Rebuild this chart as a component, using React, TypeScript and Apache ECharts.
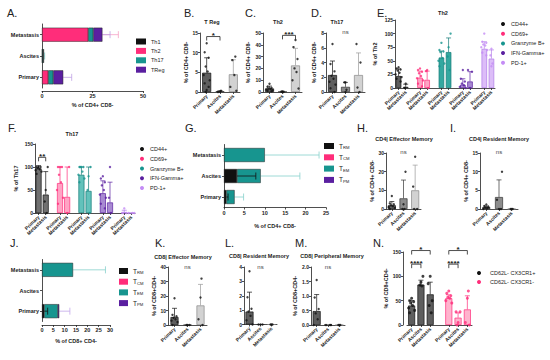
import React, { useEffect, useRef } from "react";
import * as echarts from "echarts";

const FONT = "Liberation Sans, Arial, sans-serif";
const INK = "#222";

const sites = ["Primary", "Ascites", "Metastasis"];

// ---------- A: CD4+ helper subsets (stacked) ----------
const aNames = ["Th1", "Th2", "Th17", "TReg"];
const aTh1 = [0, 0, 0];
const aTh2 = [3.1, 0.2, 22.9];
const aTh17 = [2.5, 0.5, 2.5];
const aTReg = [4.9, 0.2, 4.5];
const aErrTh2 = [null, null, 37.8];
const aErrTh17 = [null, 1.3, null];
const aErrTReg = [14.7, null, 33.7];
const aTicks = [0, 50, 25];

// ---------- B: T Reg ----------
const bMean = [4.9, 0.2, 4.5];
const bSD = [8.7, 0.35, 8.2];
const bDots = [[12.4, 10.1, 8.7, 6.5, 5.2, 4.3, 3.0, 2.2, 1.3, 0.5, 0], [0.3, 0.1, 0], [9.0, 8.1, 4.3, 1.3, 0.3]];
const bSig: any[] = [[0, 1, 14.1, "*"]];

// ---------- C: Th2 ----------
const cMean = [3, 0.3, 22.5];
const cSD = [5, 0.6, 37];
const cDots = [[7, 4.5, 3.5, 3, 2.5, 2, 1.5, 1, 0.5], [0.5, 0.2, 0], [44, 38, 28, 20, 17, 10, 3]];
const cSig: any[] = [[1, 2, 48, "***"]];

// ---------- D: Th17 ----------
const dMean = [2.3, 0.7, 2.3];
const dSD = [4.2, 1.3, 5.3];
const dDots = [[6.5, 3.8, 2.8, 2.2, 1.8, 1.4, 1, 0.5, 0], [1.3, 1.3, 0.3, 0], [6.5, 4, 0.6, 0]];
const dSig: any[] = [[1, 1, 8.1, "ns"]];

// ---------- E / F: marker expression ----------
const markers = ["CD44+", "CD69+", "Granzyme B+", "IFN-Gamma+", "PD-1+"];
const groupSites = ["Primary", "Metastasis"];
const eMean = [[22, 2], [19, 15], [56, 66], [6, 12], [72, 54]];
const eSD = [[35, 7], [31, 31], [68, 92], [17, 30], [85, 70]];
const eDots = [
  [[38, 36, 34, 32, 28, 25, 20, 17, 12], [8, 0]],
  [[36, 33, 30, 27, 22, 18, 14, 8, 3], [33, 31, 0]],
  [[83, 70, 67, 66, 55, 50, 45, 40], [100, 75, 58, 33]],
  [[33, 17, 12, 8, 5, 2, 0], [33, 30, 0]],
  [[100, 85, 83, 80, 78, 75, 70, 65, 60], [72, 60, 45, 40]],
];
const fMean = [[97, 40], [65, 35], [83, 48], [43, 23], [2, 0]];
const fSD = [[103, 90], [100, 100], [100, 100], [70, 67], [6, 0]];
const fDots = [
  [[100, 100, 100, 98, 95, 93, 90, 85], [100, 50, 25, 0]],
  [[100, 100, 100, 83, 67, 50, 33, 20], [100, 0]],
  [[100, 100, 100, 100, 90, 83, 75, 67], [100, 80, 50, 0]],
  [[80, 75, 67, 60, 50, 40, 33, 20, 10], [100, 33, 0]],
  [[10, 0, 0, 0], [0, 0, 0]],
];
const fSig: any[] = [[0, 1, 121, "**"]];

// ---------- G / J: memory subsets (stacked) ----------
const memNames = ["TRM", "TCM", "TEM", "TPM"];
const gTRM = [0.6, 3.2, 0];
const gTCM = [0, 0, 0];
const gTEM = [2.0, 5.8, 10];
const gTPM = [0, 0, 0];
const gErrTRM = [1.0, 7.8, null];
const gErrTEM = [4.8, 18.6, 23.3];
const jTRM = [1.0, 0, 0];
const jTCM = [0, 0, 0];
const jTEM = [6.0, 0, 13.7];
const jTPM = [0.6, 0, 0];
const jErrTRM = [2.5, null, null];
const jErrTEM = [null, null, 28];
const jErrTPM = [12.3, null, null];

// ---------- H, I, K, L, M ----------
const hMean = [2, 5.7, 10];
const hSD = [4, 15.5, 23.5];
const hDots = [[7, 3, 2.5, 2, 1.5, 1, 0.5, 0], [20, 2.5, 0, 0], [28, 12, 0, 0]];
const hSig: any[] = [[1, 1, 30.5, "ns"]];
const iMean = [0.5, 3.2, 0.05];
const iSD = [0.8, 7.8, 0.1];
const iDots = [[1.2, 0.8, 0.6, 0.4, 0.2, 0], [10, 2.5, 0, 0], [0, 0, 0]];
const iSig: any[] = [[1, 1, 15.3, "ns"]];
const kMean = [5.5, 0, 13.5];
const kSD = [11.5, 0, 28];
const kDots = [[18.5, 7, 6, 5, 4, 3, 2, 0], [0, 0, 0], [32, 19, 4, 0]];
const kSig: any[] = [[1, 1, 40, "ns"]];
const lMean = [0.9, 0, 0];
const lSD = [2.25, 0, 0];
const lDots = [[3.7, 1.9, 1.1, 0.9, 0.6, 0.3, 0], [0, 0, 0], [0, 0, 0]];
const lSig: any[] = [[1, 1, 4, "ns"]];
const mMean = [0.48, 0, 0];
const mSD = [1.05, 0, 0];
const mDots = [[1.55, 0.95, 0.55, 0.4, 0.2, 0], [0, 0, 0], [0, 0, 0]];
const mSig: any[] = [[1, 1, 2, "ns"]];

// ---------- N: CD62L- subsets ----------
const nNames = ["CD62L- CX3CR1+", "CD62L- CX3CR1-"];
const nCats = ["Primary", "Ascites", "Metastasis", "", "Primary", "Ascites", "Metastasis"];
const nPlusMean = [40, 83, 63];
const nPlusSD = [50, 92, 88];
const nPlusDots = [[55, 50, 48, 45, 40, 35, 30, 25], [100, 88, 82, 80], [100, 85, 50, 40, 25]];
const nMinusMean = [55, 15, 32];
const nMinusSD = [62, 25, 60];
const nMinusDots = [[70, 65, 60, 57, 55, 50, 45], [27, 27, 5, 0], [70, 55, 5, 0]];
const nSig: any[] = [[0, 1, 125, "****"], [0, 2, 153, "*"], [4, 5, 125, "****"], [4, 6, 153, "*"]];

// ---------- styles ----------
const grayFill = ["#5e5e5e", "#8c8c8c", "#d2d2d2"];
const grayLine = ["#111", "#333", "#888"];
const grayErr = ["#111", "#333", "#999"];
const aColors = ["#111111", "#ff2d7a", "#17958f", "#5a1fa0"];
const memColors = ["#111111", "#ff2d7a", "#17958f", "#5a1fa0"];
const mStrong = ["#111111", "#ff2d7a", "#17958f", "#5a1fa0", "#c48cf5"];
const eFill = ["#5e5e5e", "#ffa3c4", "#33a8a0", "#a88ad2", "#dcbdf8"];
const fFill = ["#707070", "#ffa3c4", "#62c2bb", "#a88ad2", "#dcbdf8"];
const mLine = ["#111111", "#ff2d7a", "#117a75", "#5a1fa0", "#b07ae8"];
const JIT = [0, -2, 2, -1, 1, -3, 3, -2, 2, 0, -1, 1];

function renderErrV(params: any, api: any) {
  const x = api.value(0), lo = api.value(1), hi = api.value(2);
  const a = api.coord([x, lo]);
  const b = api.coord([x, hi]);
  const c = api.visual("color");
  return {
    type: "group",
    children: [
      { type: "line", shape: { x1: a[0], y1: a[1], x2: b[0], y2: b[1] }, style: { stroke: c, lineWidth: 0.7 } },
      { type: "line", shape: { x1: b[0] - 2.5, y1: b[1], x2: b[0] + 2.5, y2: b[1] }, style: { stroke: c, lineWidth: 0.7 } },
    ],
  };
}

function renderErrH(params: any, api: any) {
  const lo = api.value(0), hi = api.value(1), y = api.value(2);
  const a = api.coord([lo, y]);
  const b = api.coord([hi, y]);
  const c = api.visual("color");
  return {
    type: "group",
    children: [
      { type: "line", shape: { x1: a[0], y1: a[1], x2: b[0], y2: b[1] }, style: { stroke: c, lineWidth: 0.8 } },
      { type: "line", shape: { x1: b[0], y1: b[1] - 3.5, x2: b[0], y2: b[1] + 3.5 }, style: { stroke: c, lineWidth: 0.8 } },
    ],
  };
}

function makeSig(list: any[]) {
  return (params: any, api: any) => {
    const s = list[params.dataIndex];
    const a = api.coord([s[0], s[2]]);
    const b = api.coord([s[1], s[2]]);
    if (s[0] === s[1]) {
      return {
        type: "text",
        x: a[0],
        y: a[1],
        style: { text: s[3], fontSize: 6, fontFamily: FONT, fill: "#444", align: "center", verticalAlign: "middle" },
      };
    }
    return {
      type: "group",
      children: [
        {
          type: "polyline",
          shape: { points: [[a[0], a[1] + 4], [a[0], a[1]], [b[0], b[1]], [b[0], b[1] + 4]] },
          style: { stroke: INK, lineWidth: 0.8, fill: null },
        },
        {
          type: "text",
          x: (a[0] + b[0]) / 2,
          y: a[1] + 3,
          style: { text: s[3], fontSize: 8, fontWeight: "bold", fontFamily: FONT, fill: INK, align: "center", verticalAlign: "bottom" },
        },
      ],
    };
  };
}

function buildOption() {
  const grid: any[] = [], xAxis: any[] = [], yAxis: any[] = [], series: any[] = [], legend: any[] = [], graphic: any[] = [];
  const line = { show: true, lineStyle: { color: INK, width: 0.8 } };
  const tick = { show: true, length: 2, lineStyle: { color: INK, width: 0.8 } };
  const lbl = { fontSize: 5, fontWeight: "bold", color: INK, fontFamily: FONT };
  const nameStyle = { fontSize: 5.5, fontWeight: "bold", color: INK, fontFamily: FONT };

  function vAxes(c: any) {
    const g = grid.length;
    grid.push({ left: c.left, top: c.top, width: c.width, height: c.height });
    const blanks = c.cats.map((v: string) => v === "");
    xAxis.push({
      gridIndex: g, type: "category", data: c.cats, axisLine: line,
      axisTick: { ...tick, alignWithLabel: true, interval: (i: number) => !blanks[i] },
      axisLabel: { ...lbl, interval: 0, rotate: 45, margin: 3 }, splitLine: { show: false },
    });
    yAxis.push({
      gridIndex: g, type: "value", min: 0, max: c.max, interval: c.interval, offset: c.yOffset || 0,
      axisLine: line, axisTick: tick, splitLine: { show: false },
      axisLabel: { ...lbl, margin: 2, formatter: c.fmt },
      name: c.yName || "", nameLocation: "middle", nameGap: c.nameGap || 10, nameTextStyle: nameStyle,
    });
    return g;
  }

  function errSeries(g: number, items: any[]) {
    series.push({ type: "custom", xAxisIndex: g, yAxisIndex: g, z: 3, renderItem: renderErrV, encode: { x: 0, y: [1, 2] }, data: items });
  }
  function dotSeries(g: number, pts: number[][], color: string, size: number) {
    series.push({
      type: "scatter", xAxisIndex: g, yAxisIndex: g, symbolSize: size, z: 4, itemStyle: { color },
      data: pts.map((p, j) => ({ value: p, symbolOffset: [JIT[j % JIT.length], 0] })),
    });
  }
  function sigSeries(g: number, list: any[]) {
    series.push({
      type: "custom", xAxisIndex: g, yAxisIndex: g, z: 5, renderItem: makeSig(list),
      encode: { x: [0, 1], y: 2 }, data: list.map((s) => [s[0], s[1], s[2]]),
    });
  }

  function simplePanel(c: any, mean: number[], sd: number[], dots: number[][], sig: any[]) {
    const g = vAxes({ ...c, cats: sites });
    series.push({
      type: "bar", xAxisIndex: g, yAxisIndex: g, barWidth: c.barWidth,
      data: mean.map((v, i) => ({ value: v, itemStyle: { color: grayFill[i], borderColor: grayLine[i], borderWidth: 0.7 } })),
    });
    errSeries(g, mean.map((v, i) => ({ value: [i, v, sd[i]], itemStyle: { color: grayErr[i] } })).filter((d) => d.value[2] > d.value[1]));
    const pts: number[][] = [];
    dots.forEach((arr, i) => arr.forEach((v) => pts.push([i, v])));
    dotSeries(g, pts, "#111", 2.4);
    sigSeries(g, sig);
  }

  function groupPanel(c: any, mean: number[][], sd: number[][], dots: number[][][], fills: string[], sig?: any[]) {
    const cats: string[] = [];
    markers.forEach((m, k) => {
      groupSites.forEach((s) => cats.push(s));
      if (k < markers.length - 1) cats.push("");
    });
    const g = vAxes({ ...c, cats });
    markers.forEach((m, k) => {
      const data: any[] = cats.map(() => "-");
      mean[k].forEach((v, s) => { data[k * 3 + s] = v; });
      series.push({
        type: "bar", name: m, xAxisIndex: g, yAxisIndex: g, barWidth: c.barWidth, barGap: "-100%",
        itemStyle: { color: fills[k], borderColor: mLine[k], borderWidth: 0.7 }, data,
      });
      errSeries(g, mean[k].map((v, s) => ({ value: [k * 3 + s, v, sd[k][s]], itemStyle: { color: mLine[k] } })).filter((d) => d.value[2] > d.value[1]));
      const pts: number[][] = [];
      dots[k].forEach((arr, s) => arr.forEach((v) => pts.push([k * 3 + s, v])));
      dotSeries(g, pts, mStrong[k], 2.4);
    });
    if (sig) sigSeries(g, sig);
  }

  function hPanel(c: any, segNames: string[], segs: number[][], segColors: string[], errs: any[]) {
    const g = grid.length;
    grid.push({ left: c.left, top: c.top, width: c.width, height: c.height });
    xAxis.push({
      gridIndex: g, type: "value", min: c.ticks[0], max: c.ticks[1], interval: c.ticks[2], offset: c.xOffset || 0,
      axisLine: line, axisTick: tick, splitLine: { show: false }, axisLabel: { ...lbl, fontSize: 5.5, margin: 2 },
      name: c.xName, nameLocation: "middle", nameGap: c.nameGap, nameTextStyle: nameStyle,
    });
    yAxis.push({
      gridIndex: g, type: "category", data: sites, axisLine: line, axisTick: { ...tick, alignWithLabel: true },
      axisLabel: { ...lbl, fontSize: 5.5, margin: 3 },
    });
    segs.forEach((arr, k) => series.push({
      type: "bar", name: segNames[k], stack: "s" + g, xAxisIndex: g, yAxisIndex: g, barWidth: c.barWidth,
      itemStyle: { color: segColors[k], borderColor: INK, borderWidth: 0.5 },
      data: arr.map((v) => (v > 0 ? v : "-")),
    }));
    errs.forEach((e) => {
      const items: any[] = [];
      e.ends.forEach((end: number | null, i: number) => {
        if (end == null) return;
        let cum = 0;
        for (let k = 0; k <= e.seg; k++) cum += segs[k][i];
        items.push({ value: [cum, end, i], itemStyle: { color: e.color } });
      });
      series.push({ type: "custom", xAxisIndex: g, yAxisIndex: g, z: e.z, renderItem: renderErrH, encode: { x: [0, 1], y: 2 }, data: items });
    });
  }

  function addLegend(c: any, names: string[], colors: string[], icon: string, formatter?: any, rich?: any) {
    legend.push({
      orient: "vertical", left: c.left, top: c.top, itemWidth: c.w, itemHeight: c.h, itemGap: c.gap, padding: 0,
      selectedMode: false, icon, formatter,
      textStyle: { fontSize: 5.5, color: INK, fontFamily: FONT, lineHeight: 7, rich },
      data: names.map((n, i) => ({ name: n, itemStyle: { color: colors[i], borderWidth: 0 } })),
    });
  }

  // A
  hPanel({ left: 42, top: 24, width: 101, height: 64, xOffset: 3, ticks: aTicks, barWidth: 14, xName: "% of CD4+ CD8-", nameGap: 11 },
    aNames, [aTh1, aTh2, aTh17, aTReg], aColors,
    [
      { seg: 3, ends: aErrTh2, color: "#f7a3c6", z: 1 },
      { seg: 3, ends: aErrTReg, color: "#bfa2e3", z: 1 },
      { seg: 3, ends: aErrTh17, color: "#7cc7c2", z: 1 },
    ]);
  addLegend({ left: 136, top: 38, w: 10, h: 6, gap: 2.4 }, aNames, aColors, "rect");

  // B, C, D
  simplePanel({ left: 200, top: 33, width: 40, height: 59, max: 15, interval: 5, barWidth: 9, yName: "% of CD4+ CD8-", nameGap: 11 }, bMean, bSD, bDots, bSig);
  simplePanel({ left: 263, top: 33, width: 39, height: 59, max: 50, interval: 10, barWidth: 9, yName: "% of CD4+ CD8-", nameGap: 12 }, cMean, cSD, cDots, cSig);
  simplePanel({ left: 326, top: 33, width: 39, height: 59, max: 8, interval: 2, barWidth: 9, yName: "% of CD4+ CD8-", nameGap: 9 }, dMean, dSD, dDots, dSig);

  // E
  groupPanel({ left: 395, top: 20, width: 100, height: 68, max: 125, interval: 25, barWidth: 5.5, yName: "% of Th2", nameGap: 17 }, eMean, eSD, eDots, eFill);
  addLegend({ left: 501, top: 20.5, w: 6, h: 4, gap: 2.7 }, markers, mStrong, "circle");

  // F
  groupPanel({ left: 35, top: 144, width: 100, height: 69, max: 150, interval: 50, barWidth: 6, yName: "% of Th17", nameGap: 16 }, fMean, fSD, fDots, fFill, fSig);
  addLegend({ left: 140, top: 145.5, w: 6, h: 4, gap: 2.75 }, markers, mStrong, "circle");

  const memFmt = (n: string) => "{m|T}{s|" + n.slice(1) + "}";
  const memRich = { m: { fontSize: 6.5, fontFamily: FONT, color: INK }, s: { fontSize: 4.2, fontFamily: FONT, color: INK, padding: [3, 0, 0, 0] } };

  // G
  hPanel({ left: 224, top: 144.5, width: 102, height: 63, ticks: [0, 25, 5], barWidth: 14, xName: "% of CD4+ CD8-", nameGap: 15 },
    memNames, [gTRM, gTCM, gTEM, gTPM], memColors,
    [
      { seg: 3, ends: gErrTEM, color: "#86d0cb", z: 1 },
      { seg: 0, ends: gErrTRM, color: "#111", z: 3 },
    ]);
  addLegend({ left: 324, top: 142.5, w: 10, h: 6, gap: 4.3 }, memNames, memColors, "rect", memFmt, memRich);

  // H, I
  simplePanel({ left: 386, top: 153, width: 35, height: 56, max: 30, interval: 10, barWidth: 8, yName: "% of CD4+ CD8-", nameGap: 9 }, hMean, hSD, hDots, hSig);
  simplePanel({ left: 480, top: 153, width: 38, height: 56, max: 15, interval: 5, barWidth: 8, yName: "% of CD4+ CD8-", nameGap: 8 }, iMean, iSD, iDots, iSig);

  // J
  hPanel({ left: 42, top: 259.5, width: 68, height: 62, xOffset: 3.5, ticks: [0, 30, 5], barWidth: 14, xName: "% of CD8+ CD4-", nameGap: 13 },
    memNames, [jTRM, jTCM, jTEM, jTPM], memColors,
    [
      { seg: 2, ends: jErrTEM, color: "#86d0cb", z: 1 },
      { seg: 3, ends: jErrTPM, color: "#c2a6ea", z: 1 },
      { seg: 0, ends: jErrTRM, color: "#111", z: 3 },
    ]);
  addLegend({ left: 119, top: 267.5, w: 9, h: 6, gap: 3.7 }, memNames, memColors, "rect", memFmt, memRich);

  // K, L, M
  simplePanel({ left: 168, top: 267, width: 39, height: 58, max: 40, interval: 10, barWidth: 8, yName: "% of CD8+CD4-", nameGap: 10 }, kMean, kSD, kDots, kSig);
  simplePanel({ left: 244, top: 267, width: 33, height: 57.5, max: 4, interval: 1, barWidth: 8 }, lMean, lSD, lDots, lSig);
  simplePanel({ left: 311, top: 267, width: 34, height: 58, max: 2, interval: 0.5, barWidth: 8, yName: "% of CD8+CD4-", nameGap: 13, fmt: (v: number) => v.toFixed(1) }, mMean, mSD, mDots, mSig);

  // N
  {
    const g = vAxes({ left: 407, top: 252, width: 65, height: 73, max: 150, interval: 50, yOffset: 4, cats: nCats, yName: "% of CD8+CD4-", nameGap: 11 });
    const groups = [
      { mean: nPlusMean, sd: nPlusSD, dots: nPlusDots, fill: "#5e5e5e", border: "#111", dot: "#111" },
      { mean: nMinusMean, sd: nMinusSD, dots: nMinusDots, fill: "#ffb3cd", border: "#ff2d7a", dot: "#ff2d7a" },
    ];
    groups.forEach((gr, k) => {
      const data: any[] = nCats.map(() => "-");
      gr.mean.forEach((v, s) => { data[k * 4 + s] = v; });
      series.push({
        type: "bar", name: nNames[k], xAxisIndex: g, yAxisIndex: g, barWidth: 7, barGap: "-100%",
        itemStyle: { color: gr.fill, borderColor: gr.border, borderWidth: 0.7 }, data,
      });
      errSeries(g, gr.mean.map((v, s) => ({ value: [k * 4 + s, v, gr.sd[s]], itemStyle: { color: gr.border } })));
      const pts: number[][] = [];
      gr.dots.forEach((arr, s) => arr.forEach((v) => pts.push([k * 4 + s, v])));
      dotSeries(g, pts, gr.dot, 3);
    });
    sigSeries(g, nSig);
    addLegend({ left: 477, top: 269.5, w: 12, h: 4, gap: 2 }, nNames, ["#111", "#ff2d7a"], "circle");
  }

  // Panel letters
  const letters: [string, number, number][] = [
    ["A.", 7, 7], ["B.", 184, 7], ["C.", 245, 7], ["D.", 311, 7], ["E.", 377, 7],
    ["F.", 8, 122], ["G.", 185, 122], ["H.", 357, 122], ["I.", 450, 122],
    ["J.", 10, 237], ["K.", 155, 237], ["L.", 225, 237], ["M.", 295, 237], ["N.", 373, 237],
  ];
  letters.forEach(([t, x, y]) => graphic.push({
    type: "text", x, y, style: { text: t, fontSize: 11, fontFamily: FONT, fill: INK, align: "left", verticalAlign: "top" },
  }));
  const titles: [string, number, number][] = [
    ["T Reg", 212, 22], ["Th2", 278, 22], ["Th17", 337, 22], ["Th2", 443, 13], ["Th17", 72, 134],
    ["CD4| Effector Memory", 404, 139], ["CD4| Resident Memory", 499, 139],
    ["CD8| Effector Memory", 183, 257], ["CD8| Resident Memory", 259, 256], ["CD8| Peripheral Memory", 332, 256],
  ];
  titles.forEach(([t, x, y]) => graphic.push({
    type: "text", x, y, style: { text: t, fontSize: 5.5, fontWeight: "bold", fontFamily: FONT, fill: INK, align: "center", verticalAlign: "middle" },
  }));

  return { animation: false, backgroundColor: "#ffffff", grid, xAxis, yAxis, series, legend, graphic };
}

export default function App() {
  const ref = useRef<HTMLDivElement>(null);
  useEffect(() => {
    const chart = echarts.init(ref.current!, null, { renderer: "svg" });
    chart.setOption(buildOption() as any);
    return () => chart.dispose();
  }, []);
  return (
    <div
      ref={ref}
      style={{ position: "fixed", left: 0, top: 0, width: 550, height: 360, background: "#fff" }}
    />
  );
}
